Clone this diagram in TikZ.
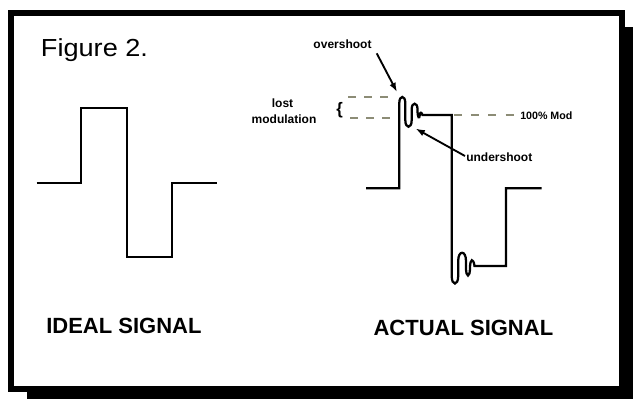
\documentclass[tikz,border=0pt]{standalone}
\usepackage{fontspec}
\setmainfont{Liberation Sans}
\usetikzlibrary{arrows.meta}
\definecolor{dashc}{RGB}{140,140,118}
\begin{document}
\begin{tikzpicture}[x=0.75pt,y=-0.75pt,
  sig/.style={line width=1.7pt,line join=miter,black},
  dashline/.style={dashc,line width=1.3pt,dash pattern=on 6pt off 6pt},
  lbl/.style={font=\bfseries\fontsize{9}{10}\selectfont,inner sep=0pt},
  big/.style={font=\bfseries\fontsize{16.5}{18}\selectfont,inner sep=0pt,anchor=base west},
  ptr/.style={line width=1.4pt,-{Latex[length=7pt,width=5pt]}}]
\useasboundingbox (0,0) rectangle (633,399);
% frame with shadow
\fill[black] (621,27) rectangle (633,399);
\fill[black] (27,388) rectangle (633,399);
\draw[line width=3.8pt] (11,13) rectangle (622,389);
% title
\node[inner sep=0pt,anchor=base west,font=\fontsize{18.5}{20}\selectfont] (title) at (40.7,56.7) {\scalebox{1.1}[1]{Figure 2.}};
% ideal signal
\draw[sig] (36.7,183.3) -- (80.7,183.3) -- (80.7,108.3) -- (126.7,108.3) -- (126.7,256.7)
  -- (172.3,256.7) -- (172.3,183.3) -- (216.7,183.3);
% actual signal
\draw[sig] (366,188.3) -- (399.3,188.3) -- (399.3,103)
  .. controls (399.3,95) and (405.3,95) .. (405.3,103) -- (405.3,120)
  .. controls (405.3,129) and (411.7,129) .. (411.7,120) -- (411.7,109)
  .. controls (411.7,102) and (417.5,102) .. (417.5,109)
  .. controls (417.5,119) and (419.5,119) .. (419.8,115)
  .. controls (420,112) and (421.5,112) .. (422.5,115)
  -- (451.7,115) -- (451.7,276)
  .. controls (451.7,286) and (458.2,286) .. (458.2,276) -- (458.2,261)
  .. controls (458.2,250) and (466,250) .. (466,261) -- (466,268)
  .. controls (466,278) and (470,278) .. (470,268)
  .. controls (470,258) and (473.5,258) .. (474.5,266)
  -- (506,266) -- (506,188.3) -- (541.7,188.3);
% dashed reference lines
\draw[dashline] (348.3,97.3) -- (392,97.3);
\draw[dashline] (350,117.7) -- (392,117.7);
\draw[dashline,dash pattern=on 6pt off 7pt] (453.5,115) -- (514,115);
% labels
\node[lbl,anchor=base] (over) at (342.5,48.3) {overshoot};
\node[lbl,anchor=base] (lost) at (282.5,108) {lost};
\node[lbl,anchor=base] (modul) at (284,123.3) {modulation};
\node[inner sep=0pt,font=\bfseries\fontsize{12.5}{13}\selectfont] (brace) at (339.5,110.5) {\{};
\node[lbl,anchor=base west,font=\bfseries\fontsize{8}{9}\selectfont] (mod) at (520,119.3) {100\% Mod};
\node[lbl,anchor=base west] (under) at (466,162) {undershoot};
\node[big] (ideal) at (46,333.3) {IDEAL SIGNAL};
\node[big] (actual) at (373.3,335.7) {ACTUAL SIGNAL};
% arrows
\coordinate (ovtail) at (376.7,53.3);
\coordinate (ovtip) at (397,92);
\coordinate (untail) at (465,156);
\coordinate (untip) at (415.5,128.5);
\draw[ptr] (ovtail) -- (ovtip);
\draw[ptr] (untail) -- (untip);
\end{tikzpicture}
\end{document}
